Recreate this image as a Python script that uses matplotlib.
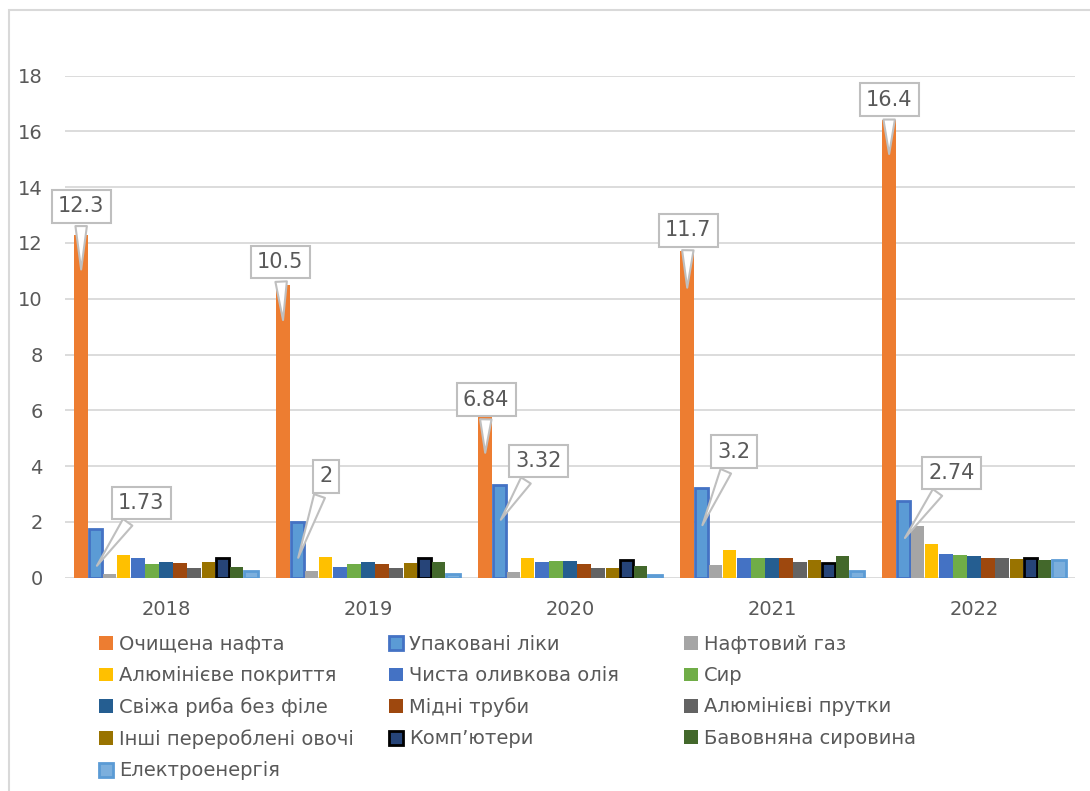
import numpy as np
import matplotlib.pyplot as plt
from matplotlib.patches import Rectangle, Patch

plt.rcParams['font.family'] = ['DejaVu Sans']

years = ['2018', '2019', '2020', '2021', '2022']
products = ['Очищена нафта', 'Упаковані ліки', 'Нафтовий газ',
            'Алюмінієве покриття', 'Чиста оливкова олія', 'Сир',
            'Свіжа риба без філе', 'Мідні труби', 'Алюмінієві прутки',
            'Інші перероблені овочі', 'Комп’ютери', 'Бавовняна сировина',
            'Електроенергія']

# values per product, one entry per year
oil = [12.3, 10.5, 6.84, 11.7, 16.4]
medicine = [1.73, 2, 3.32, 3.2, 2.74]
petroleum_gas = [0.12, 0.25, 0.22, 0.46, 1.85]
aluminium_plating = [0.81, 0.75, 0.72, 0.99, 1.21]
olive_oil = [0.70, 0.39, 0.57, 0.70, 0.85]
cheese = [0.48, 0.50, 0.61, 0.70, 0.81]
fish = [0.57, 0.57, 0.61, 0.70, 0.78]
copper_pipes = [0.53, 0.50, 0.50, 0.70, 0.70]
aluminium_bars = [0.35, 0.33, 0.35, 0.57, 0.70]
vegetables = [0.57, 0.53, 0.35, 0.64, 0.67]
computers = [0.72, 0.70, 0.63, 0.53, 0.70]
cotton = [0.39, 0.57, 0.42, 0.78, 0.63]
electricity = [0.24, 0.12, 0.08, 0.24, 0.64]

series = [oil, medicine, petroleum_gas, aluminium_plating, olive_oil, cheese,
          fish, copper_pipes, aluminium_bars, vegetables, computers, cotton,
          electricity]

faces = ['#ED7D31', '#5B9BD5', '#A5A5A5', '#FFC000', '#4472C4', '#70AD47',
         '#255E91', '#9E480E', '#636363', '#997300', '#264478', '#43682B',
         '#7CAFDD']
edges = {1: '#4472C4', 10: '#000000', 12: '#5B9BD5'}

# callouts: (series index, tip as fraction of value, box offset in pixels)
callouts = {
    0: ([0.89, 0.87, 0.64, 0.88, 0.92],
        [(0, 66), (-3, 61), (1, 56), (1, 60), (0, 57)]),
    1: ([0.20, 0.31, 0.60, 0.56, 0.49],
        [(46, 65), (29, 84), (39, 61), (33, 76), (48, 67)]),
}

text_col = '#595959'
grid_col = '#D9D9D9'

fig = plt.figure(figsize=(10.9, 7.91), dpi=100)
ax = fig.add_axes([65 / 1090, 1 - 577.7 / 791, 1010 / 1090, (577.7 - 75.5) / 791])

x = np.arange(len(years))
w = 0.07
handles = []
for j, vals in enumerate(series):
    ec = edges.get(j, 'none')
    lw = 2 if j in edges else 0
    ax.bar(x + (j - 6) * w, vals, width=w * 0.96, color=faces[j],
           edgecolor=ec, linewidth=lw, zorder=3)
    handles.append(Patch(facecolor=faces[j], edgecolor=ec, linewidth=lw))

for j, (fracs, offs) in callouts.items():
    for i, v in enumerate(series[j]):
        ax.annotate(f'{v:g}', xy=(x[i] + (j - 6) * w, v * fracs[i]),
                    xytext=offs[i], textcoords='offset pixels',
                    ha='center', va='center', fontsize=15, color=text_col,
                    bbox=dict(boxstyle='square,pad=0.3', fc='white',
                              ec='#BFBFBF', lw=1.5),
                    arrowprops=dict(arrowstyle='wedge,tail_width=0.55',
                                    fc='white', ec='#BFBFBF', lw=1.5),
                    zorder=5)

ax.set_xlim(-0.5, len(years) - 0.5)
ax.set_ylim(0, 18)
ax.set_yticks(np.arange(0, 19, 2))
ax.set_xticks(x)
ax.set_xticklabels(years)
ax.tick_params(length=0, labelsize=14, labelcolor=text_col)
ax.tick_params(axis='y', pad=16)
ax.tick_params(axis='x', pad=16)
ax.grid(axis='y', color=grid_col, lw=1.3, zorder=0)
for s in ax.spines.values():
    s.set_visible(False)

# legend laid out row by row in three columns
col_x = [99 / 1090, 389 / 1090, 684 / 1090]
for c in range(3):
    idx = list(range(c, len(products), 3))
    leg = fig.legend([handles[k] for k in idx], [products[k] for k in idx],
                     loc='upper left', bbox_to_anchor=(col_x[c], 1 - 635 / 791),
                     frameon=False, fontsize=14, labelcolor=text_col,
                     handlelength=0.72, handleheight=0.72, handletextpad=0.3,
                     labelspacing=0.63, borderaxespad=0, borderpad=0)

fig.patches.append(Rectangle((9 / 1090, -0.1), 1.2, 1.1 - 10 / 791,
                             transform=fig.transFigure, fill=False,
                             ec=grid_col, lw=1.5))

fig.savefig('out.png', dpi=100)
